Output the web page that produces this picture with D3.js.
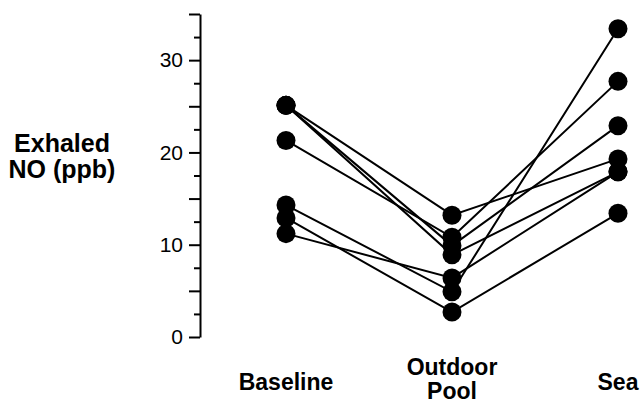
<!DOCTYPE html>
<html>
<head>
<meta charset="utf-8">
<script src="https://cdn.jsdelivr.net/npm/d3@7"></script>
<style>
  body { margin: 0; background: #fff; }
  svg { display: block; font-family: "Liberation Sans", Arial, sans-serif; }
</style>
</head>
<body>
<div id="chart"></div>
<script>
// Conditions on the x axis (label lines split for the two-line label).
var conditions = ['Baseline', 'Outdoor Pool', 'Sea'];
var conditionLines = [['Baseline'], ['Outdoor', 'Pool'], ['Sea']];
// Exhaled NO (ppb) per subject, one value per condition.
var baseline = [25.1, 25.1, 25.1, 21.3, 14.3, 12.9, 11.2];
var outdoorPool = [13.2, 9.9, 8.9, 10.8, 4.9, 2.7, 6.4];
var sea = [19.3, 22.9, 17.9, 27.7, 33.4, 13.4, 17.9];
// Axis ticks.
var yTicks = d3.range(0, 35.01, 2.5);
var yLabels = [0, 10, 20, 30];

var graphWidth = 641, graphHeight = 404;

var svg = d3.select('#chart').append('svg')
    .attr('width', graphWidth)
    .attr('height', graphHeight);

var xScale = d3.scalePoint().domain(conditions).range([286, 618]);
var yScale = d3.scaleLinear().domain([0, 35]).range([337, 14]);

// Y axis with long ticks every 5 and short ticks in between.
var yAxis = d3.axisLeft(yScale)
    .tickValues(yTicks)
    .tickSizeOuter(0)
    .tickFormat(function (d) { return yLabels.indexOf(d) >= 0 ? d : ''; });
var gy = svg.append('g')
    .attr('transform', 'translate(200,0)')
    .call(yAxis);
gy.select('.domain').attr('stroke', '#000').attr('stroke-width', 2);
gy.selectAll('.tick line')
    .attr('stroke', '#000')
    .attr('stroke-width', 2)
    .attr('x2', function (d) { return d % 5 === 0 ? -11 : -6; });
gy.selectAll('.tick text')
    .attr('x', -17)
    .attr('fill', '#000')
    .style('font-size', '21px')
    .style('font-family', '"Liberation Sans", Arial, sans-serif');

// Y title.
svg.append('text')
    .attr('x', 62)
    .attr('y', 152)
    .attr('text-anchor', 'middle')
    .style('font-size', '25px')
    .style('font-weight', 'bold')
    .selectAll('tspan')
    .data(['Exhaled', 'NO (ppb)'])
    .enter()
    .append('tspan')
    .attr('x', 62)
    .attr('dy', function (d, i) { return i === 0 ? 0 : 26; })
    .text(function (d) { return d; });

// Category labels.
svg.selectAll('.xlabel')
    .data(conditions)
    .enter()
    .append('text')
    .attr('class', 'xlabel')
    .attr('text-anchor', 'middle')
    .style('font-size', '23px')
    .style('font-weight', 'bold')
    .each(function (d, i) {
        var lines = conditionLines[i];
        var t = d3.select(this);
        lines.forEach(function (s, j) {
            t.append('tspan')
                .attr('x', xScale(d))
                .attr('y', lines.length === 1 ? 390 : 375 + j * 24)
                .text(s);
        });
    });

// One line per subject.
var subjects = baseline.map(function (b, i) {
    return [b, outdoorPool[i], sea[i]];
});
var line = d3.line()
    .x(function (d, i) { return xScale(conditions[i]); })
    .y(function (d) { return yScale(d); });

svg.selectAll('.subject')
    .data(subjects)
    .enter()
    .append('path')
    .attr('class', 'subject')
    .attr('d', line)
    .attr('fill', 'none')
    .attr('stroke', '#000')
    .attr('stroke-width', 2);

// Dots on top.
var points = [];
subjects.forEach(function (s) {
    s.forEach(function (v, i) { points.push({c: conditions[i], v: v}); });
});
svg.selectAll('.dot')
    .data(points)
    .enter()
    .append('circle')
    .attr('class', 'dot')
    .attr('cx', function (d) { return xScale(d.c); })
    .attr('cy', function (d) { return yScale(d.v); })
    .attr('r', 9.5)
    .attr('fill', '#000');
</script>
</body>
</html>
